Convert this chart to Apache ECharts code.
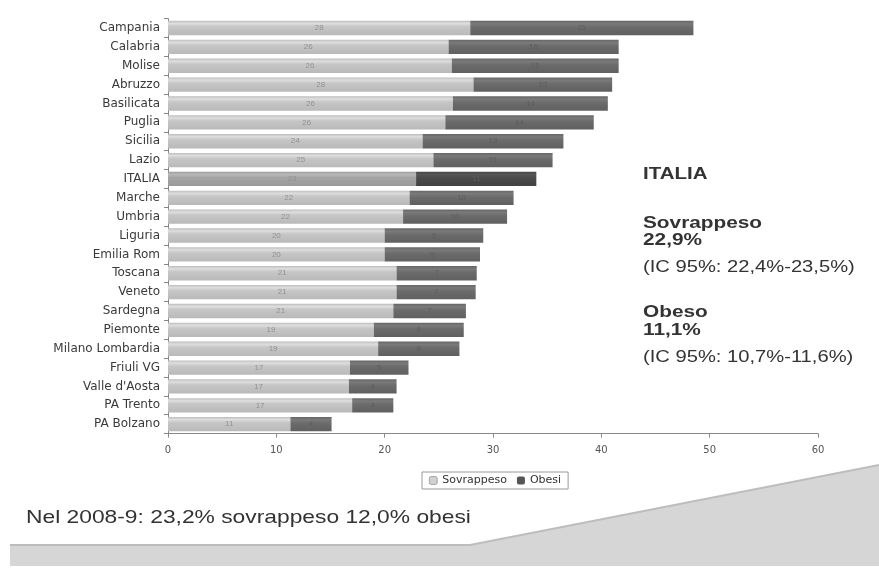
<!DOCTYPE html>
<html>
<head>
<meta charset="utf-8">
<script src="https://cdn.jsdelivr.net/npm/echarts@6/dist/echarts.min.js"></script>
<style>
html,body{margin:0;padding:0;background:#fff;}
#chart{width:879px;height:574px;}
</style>
</head>
<body>
<div id="chart"></div>
<script>
const categories = ["Campania","Calabria","Molise","Abruzzo","Basilicata","Puglia","Sicilia","Lazio","ITALIA","Marche","Umbria","Liguria","Emilia Rom","Toscana","Veneto","Sardegna","Piemonte","Milano Lombardia","Friuli VG","Valle d'Aosta","PA Trento","PA Bolzano"];
const sovrappeso = [27.9, 25.9, 26.2, 28.2, 26.3, 25.6, 23.5, 24.5, 22.9, 22.3, 21.7, 20.0, 20.0, 21.1, 21.1, 20.8, 19.0, 19.4, 16.8, 16.7, 17.0, 11.3];
const obesi = [20.6, 15.7, 15.4, 12.8, 14.3, 13.7, 13.0, 11.0, 11.1, 9.6, 9.6, 9.1, 8.8, 7.4, 7.3, 6.7, 8.3, 7.5, 5.4, 4.4, 3.8, 3.8];
const xTicks = [0, 10, 20, 30, 40, 50, 60];

const FONT = '"Liberation Sans", Arial, sans-serif';
const WFONT = '"DejaVu Sans", sans-serif';
const lightGrad = new echarts.graphic.LinearGradient(0,0,0,1,[
  {offset:0,color:'#bdbdbd'},{offset:0.18,color:'#dedede'},{offset:0.4,color:'#c6c6c6'},{offset:1,color:'#b9b9b9'}]);
const italiaLight = new echarts.graphic.LinearGradient(0,0,0,1,[
  {offset:0,color:'#9c9c9c'},{offset:0.18,color:'#b8b8b8'},{offset:0.4,color:'#a4a4a4'},{offset:1,color:'#9a9a9a'}]);
const darkGrad = new echarts.graphic.LinearGradient(0,0,0,1,[
  {offset:0,color:'#666'},{offset:0.2,color:'#7a7a7a'},{offset:0.45,color:'#6b6b6b'},{offset:1,color:'#606060'}]);
const italiaDark = new echarts.graphic.LinearGradient(0,0,0,1,[
  {offset:0,color:'#464646'},{offset:0.2,color:'#555'},{offset:0.45,color:'#4a4a4a'},{offset:1,color:'#424242'}]);

const sovData = sovrappeso.map((v,i)=> categories[i]==='ITALIA' ? {value:v,itemStyle:{color:italiaLight}} : v);
const obData = obesi.map((v,i)=> categories[i]==='ITALIA' ? {value:v,itemStyle:{color:italiaDark}} : v);

function txt(x, y, s, font, sx){
  return {type:'text', x:x, y:y, scaleX:sx, style:{text:s, font:font, fill:'#333', textVerticalAlign:'middle'}};
}

const chart = echarts.init(document.getElementById('chart'));
chart.setOption({
  animation:false,
  textStyle:{fontFamily:FONT},
  grid:{left:168,right:61,top:18.6,height:415},
  legend:{
    left:422, top:472, itemWidth:8, itemHeight:8, itemGap:10,
    padding:[3,7], borderColor:'#999', borderWidth:1,
    textStyle:{fontSize:11,color:'#333',fontFamily:WFONT},
    data:[{name:'Sovrappeso',itemStyle:{color:'#d0d0d0',borderColor:'#666',borderWidth:0.5}},{name:'Obesi',itemStyle:{color:'#555'}}]
  },
  xAxis:{
    type:'value', min:xTicks[0], max:xTicks[xTicks.length-1], interval:10,
    axisLine:{show:true,lineStyle:{color:'#888'}},
    axisTick:{show:true,length:4,lineStyle:{color:'#888'}},
    splitLine:{show:false},
    axisLabel:{fontSize:10,color:'#555',margin:12,fontFamily:WFONT}
  },
  yAxis:{
    type:'category', data:categories, inverse:true,
    axisLine:{show:true,lineStyle:{color:'#888'}},
    axisTick:{show:true,length:4,lineStyle:{color:'#888'}},
    axisLabel:{fontSize:12,color:'#3a3a3a',margin:8,fontFamily:WFONT}
  },
  series:[
    {name:'Sovrappeso',type:'bar',stack:'t',data:sovData,barWidth:'76%',
     itemStyle:{color:lightGrad},
     label:{show:true,position:'inside',fontSize:8,color:'#929292',formatter:p=>Math.round(p.value)}},
    {name:'Obesi',type:'bar',stack:'t',data:obData,barWidth:'76%',
     itemStyle:{color:darkGrad},
     label:{show:true,position:'inside',fontSize:8,color:'#5d5d5d',formatter:p=>Math.round(p.value)}}
  ],
  graphic:[
    {type:'polygon',z:-10,shape:{points:[[10,545],[470,545],[879,465],[879,566],[10,566]]},style:{fill:'#d6d6d6'}},
    {type:'polyline',z:-9,shape:{points:[[10,545],[470,545],[879,465]]},style:{stroke:'#bdbdbd',lineWidth:2,fill:null}},
    txt(643,175,'ITALIA','bold 16px '+FONT,1.28),
    txt(643,224,'Sovrappeso','bold 16px '+FONT,1.3),
    txt(643,241,'22,9%','bold 16px '+FONT,1.3),
    txt(643,268,'(IC 95%: 22,4%-23,5%)','16px '+FONT,1.26),
    txt(643,313,'Obeso','bold 16px '+FONT,1.3),
    txt(643,331,'11,1%','bold 16px '+FONT,1.3),
    txt(643,358,'(IC 95%: 10,7%-11,6%)','16px '+FONT,1.26),
    txt(26,518,'Nel 2008-9: 23,2% sovrappeso 12,0% obesi','19px '+FONT,1.2)
  ]
});
</script>
</body>
</html>
